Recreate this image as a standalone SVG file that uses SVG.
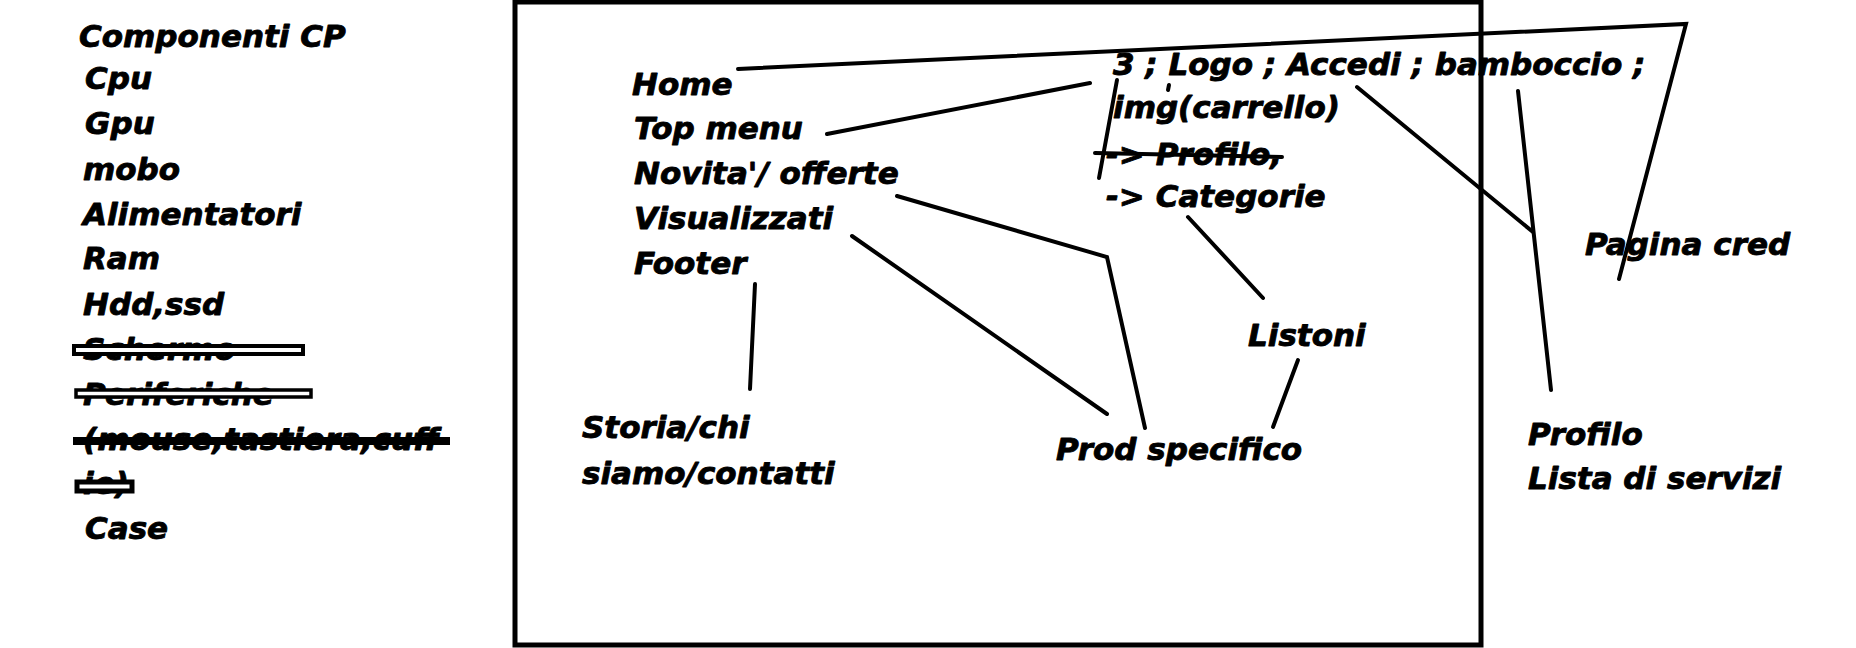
<svg xmlns="http://www.w3.org/2000/svg" width="1856" height="648" viewBox="0 0 1856 648">
<style>
text{font-family:"DejaVu Sans","Liberation Sans",sans-serif;font-weight:bold;font-style:italic;font-size:31px;fill:#000;stroke:#000;stroke-width:0.9;stroke-linejoin:round}
.ln{stroke:#000;stroke-width:4;stroke-linecap:round;fill:none}
.strike{stroke:#000;fill:#fff}
</style>
<rect width="1856" height="648" fill="#fff"/>
<g id="frame"><rect x="515" y="2" width="966" height="643" fill="none" stroke="#000" stroke-width="5"/></g>
<g id="components-list">
<text x="79" y="47">Componenti CP</text>
<text x="85" y="89">Cpu</text>
<text x="85" y="134">Gpu</text>
<text x="83" y="180">mobo</text>
<text x="83" y="225">Alimentatori</text>
<text x="83" y="269">Ram</text>
<text x="83" y="315">Hdd,ssd</text>
<text x="83" y="360">Schermo</text>
<text x="83" y="405">Periferiche</text>
<text x="83" y="450">(mouse,tastiera,cuff</text>
<text x="83" y="494">ie)</text>
<text x="85" y="539">Case</text>
<rect class="strike" x="74" y="346" width="229" height="8" stroke-width="4"/>
<rect class="strike" x="76" y="390" width="235" height="7" stroke-width="3.5"/>
<rect x="73" y="437" width="377" height="8" fill="#000"/>
<rect class="strike" x="77" y="482" width="55" height="9" stroke-width="5"/>
</g>
<g id="home"><text x="632" y="95">Home</text></g>
<g id="top-menu"><text x="634" y="139">Top menu</text></g>
<g id="novita"><text x="634" y="184">Novita'/ offerte</text></g>
<g id="visualizzati"><text x="634" y="229">Visualizzati</text></g>
<g id="footer"><text x="634" y="274">Footer</text></g>
<g id="header-items">
<text x="1113" y="75">3 ; Logo ; Accedi ; bamboccio ;</text>
<text x="1113" y="118">img(carrello)</text>
<text x="1106" y="165">-&gt; Profilo,</text>
<text x="1106" y="207">-&gt; Categorie</text>
<line class="ln" x1="1095" y1="153" x2="1282" y2="157"/>
</g>
<g id="pagina-cred"><text x="1585" y="255">Pagina cred</text></g>
<g id="listoni"><text x="1248" y="346">Listoni</text></g>
<g id="prod"><text x="1056" y="460">Prod specifico</text></g>
<g id="storia"><text x="582" y="438">Storia/chi</text><text x="582" y="484">siamo/contatti</text></g>
<g id="profilo"><text x="1528" y="445">Profilo</text><text x="1528" y="489">Lista di servizi</text></g>
<g id="connectors">
<polyline class="ln" points="738,69 1686,24 1619,279" stroke-width="5" stroke-linejoin="miter"/>
<line class="ln" x1="827" y1="134" x2="1090" y2="83"/>
<line class="ln" x1="1117" y1="80" x2="1099" y2="178" stroke-width="3.5"/>
<line class="ln" x1="1169" y1="85" x2="1168" y2="90"/>
<line class="ln" x1="1357" y1="87" x2="1533" y2="232"/>
<line class="ln" x1="1518" y1="91" x2="1551" y2="390"/>
<line class="ln" x1="1188" y1="217" x2="1263" y2="298"/>
<polyline class="ln" points="897,196 1107,257 1145,428" stroke-linejoin="miter"/>
<line class="ln" x1="852" y1="236" x2="1107" y2="414"/>
<line class="ln" x1="755" y1="284" x2="750" y2="389"/>
<line class="ln" x1="1298" y1="360" x2="1273" y2="427"/>
</g>
</svg>
